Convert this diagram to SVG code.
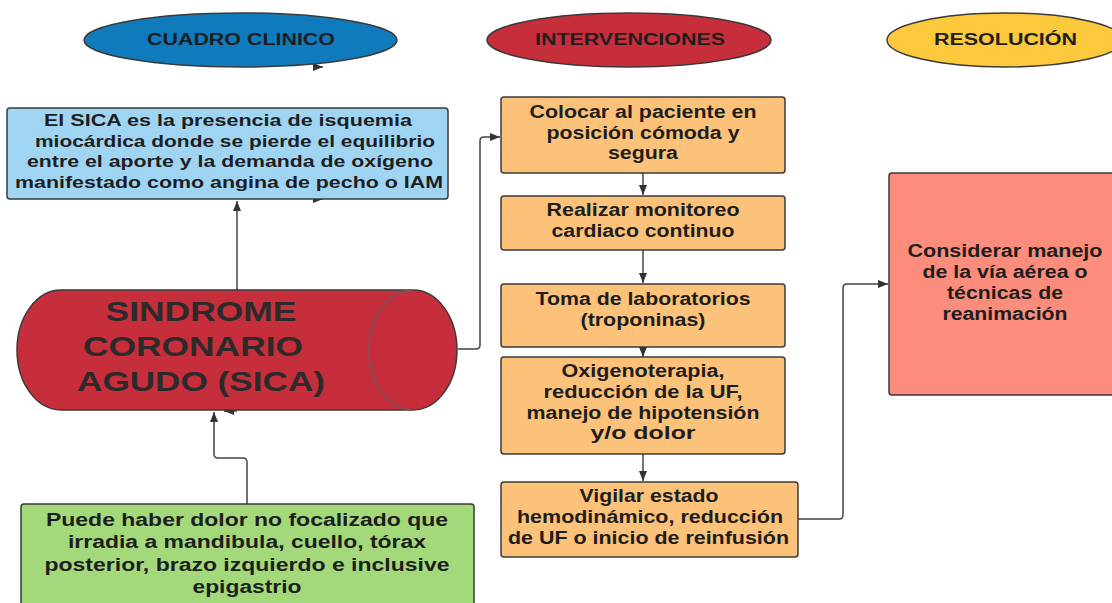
<svg xmlns="http://www.w3.org/2000/svg" width="1112" height="603" viewBox="0 0 1112 603">
<style>
.t{font-family:"Liberation Sans",Arial,sans-serif;font-weight:bold;fill:#1e1e1e;text-anchor:middle}
.s16{font-size:16px}.s17{font-size:17px}.s18{font-size:18px}.s27{font-size:27px;fill:#2b2b2b}
.n{stroke:#3a3a3a;stroke-width:1.5}
.c{fill:none;stroke:#444;stroke-width:1.5}
</style>
<defs>
<marker id="ar" markerUnits="userSpaceOnUse" markerWidth="10" markerHeight="8" refX="10" refY="4" orient="auto">
<path d="M0,0 L10,4 L0,8 z" fill="#333"/>
</marker>
</defs>
<rect width="1112" height="603" fill="#fff"/>

<g id="connectors">
<path class="c" d="M237,290 V201" marker-end="url(#ar)"/>
<path class="c" d="M458,349 H476 Q480,349 480,345 V141 Q480,137 484,137 H500" marker-end="url(#ar)"/>
<path class="c" d="M247,504 V462 Q247,458 243,458 H218 Q214,458 214,454 V412" marker-end="url(#ar)"/>
<path class="c" d="M643,173 V195" marker-end="url(#ar)"/>
<path class="c" d="M643,250 V283" marker-end="url(#ar)"/>
<path class="c" d="M643,347 V357" marker-end="url(#ar)"/>
<path class="c" d="M643,454 V481" marker-end="url(#ar)"/>
<path class="c" d="M798,519 H839 Q843,519 843,515 V288 Q843,284 847,284 H888" marker-end="url(#ar)"/>
<path class="c" d="M314,67 H323" marker-end="url(#ar)"/>
<path class="c" d="M314,199 H323" marker-end="url(#ar)"/>
<path class="c" d="M237,411 H224" marker-end="url(#ar)"/>
</g>

<g id="cuadro-clinico">
<ellipse class="n" cx="240.5" cy="40" rx="156.5" ry="27" fill="#0f7bbd"/>
<text class="t s16" x="241" y="45" textLength="188" lengthAdjust="spacingAndGlyphs">CUADRO CLINICO</text>
</g>
<g id="intervenciones">
<ellipse class="n" cx="629" cy="40" rx="142" ry="27" fill="#c72e3b"/>
<text class="t s16" x="630" y="45" textLength="190" lengthAdjust="spacingAndGlyphs">INTERVENCIONES</text>
</g>
<g id="resolucion">
<ellipse class="n" cx="1005" cy="40" rx="118" ry="27" fill="#fcc83c"/>
<text class="t s16" x="1005.5" y="45" textLength="143" lengthAdjust="spacingAndGlyphs">RESOLUCIÓN</text>
</g>

<g id="definicion">
<rect class="n" x="7" y="108" width="441" height="91" rx="3" fill="#9fd5f3"/>
<text class="t s17" x="228" y="126" textLength="368" lengthAdjust="spacingAndGlyphs">El SICA es la presencia de isquemia</text>
<text class="t s17" x="235" y="147" textLength="400" lengthAdjust="spacingAndGlyphs">miocárdica donde se pierde el equilibrio</text>
<text class="t s17" x="230" y="167" textLength="406" lengthAdjust="spacingAndGlyphs">entre el aporte y la demanda de oxígeno</text>
<text class="t s17" x="229" y="188" textLength="428" lengthAdjust="spacingAndGlyphs">manifestado como angina de pecho o IAM</text>
</g>

<g id="sica">
<path class="n" d="M61,290 H413 A44,60 0 0 1 413,410 H61 A44,60 0 0 1 61,290 Z" fill="#c72e3b"/>
<path d="M413,290 A44,60 0 0 0 413,410" fill="none" stroke="#6e5a5e" stroke-width="1.5"/>
<text class="t s27" x="201" y="321" textLength="191" lengthAdjust="spacingAndGlyphs">SINDROME</text>
<text class="t s27" x="193" y="356" textLength="220" lengthAdjust="spacingAndGlyphs">CORONARIO</text>
<text class="t s27" x="201" y="391" textLength="248" lengthAdjust="spacingAndGlyphs">AGUDO (SICA)</text>
</g>

<g id="sintomas">
<rect class="n" x="21" y="504" width="453" height="110" rx="3" fill="#a3d97a"/>
<text class="t s18" x="247" y="526" textLength="402" lengthAdjust="spacingAndGlyphs">Puede haber dolor no focalizado que</text>
<text class="t s18" x="247" y="548" textLength="358" lengthAdjust="spacingAndGlyphs">irradia a mandibula, cuello, tórax</text>
<text class="t s18" x="247" y="571" textLength="405" lengthAdjust="spacingAndGlyphs">posterior, brazo izquierdo e inclusive</text>
<text class="t s18" x="247" y="593" textLength="109" lengthAdjust="spacingAndGlyphs">epigastrio</text>
</g>

<g id="posicion">
<rect class="n" x="501" y="97" width="284" height="76" rx="3" fill="#fcc27a"/>
<text class="t s18" x="643" y="118" textLength="227" lengthAdjust="spacingAndGlyphs">Colocar al paciente en</text>
<text class="t s18" x="643" y="139" textLength="193" lengthAdjust="spacingAndGlyphs">posición cómoda y</text>
<text class="t s18" x="643" y="159" textLength="70" lengthAdjust="spacingAndGlyphs">segura</text>
</g>
<g id="monitoreo">
<rect class="n" x="501" y="196" width="284" height="54" rx="3" fill="#fcc27a"/>
<text class="t s18" x="643" y="216" textLength="193" lengthAdjust="spacingAndGlyphs">Realizar monitoreo</text>
<text class="t s18" x="643" y="237" textLength="183" lengthAdjust="spacingAndGlyphs">cardiaco continuo</text>
</g>
<g id="laboratorios">
<rect class="n" x="501" y="284" width="284" height="63" rx="3" fill="#fcc27a"/>
<text class="t s18" x="643" y="305" textLength="215" lengthAdjust="spacingAndGlyphs">Toma de laboratorios</text>
<text class="t s18" x="643" y="326" textLength="125" lengthAdjust="spacingAndGlyphs">(troponinas)</text>
</g>
<g id="oxigenoterapia">
<rect class="n" x="501" y="357" width="284" height="97" rx="3" fill="#fcc27a"/>
<text class="t s18" x="643" y="377" textLength="163" lengthAdjust="spacingAndGlyphs">Oxigenoterapia,</text>
<text class="t s18" x="643" y="398" textLength="199" lengthAdjust="spacingAndGlyphs">reducción de la UF,</text>
<text class="t s18" x="643" y="419" textLength="233" lengthAdjust="spacingAndGlyphs">manejo de hipotensión</text>
<text class="t s18" x="643" y="439" textLength="105" lengthAdjust="spacingAndGlyphs">y/o dolor</text>
</g>
<g id="vigilar">
<rect class="n" x="501" y="482" width="297" height="75" rx="3" fill="#fcc27a"/>
<text class="t s18" x="649" y="502" textLength="139" lengthAdjust="spacingAndGlyphs">Vigilar estado</text>
<text class="t s18" x="650" y="523" textLength="266" lengthAdjust="spacingAndGlyphs">hemodinámico, reducción</text>
<text class="t s18" x="648.5" y="544" textLength="281" lengthAdjust="spacingAndGlyphs">de UF o inicio de reinfusión</text>
</g>

<g id="via-aerea">
<rect class="n" x="889" y="173" width="240" height="222" rx="3" fill="#fc8c7c"/>
<text class="t s18" x="1005" y="257" textLength="195" lengthAdjust="spacingAndGlyphs">Considerar manejo</text>
<text class="t s18" x="1005" y="278" textLength="165" lengthAdjust="spacingAndGlyphs">de la vía aérea o</text>
<text class="t s18" x="1005" y="299" textLength="116" lengthAdjust="spacingAndGlyphs">técnicas de</text>
<text class="t s18" x="1005" y="320" textLength="125" lengthAdjust="spacingAndGlyphs">reanimación</text>
</g>
</svg>
